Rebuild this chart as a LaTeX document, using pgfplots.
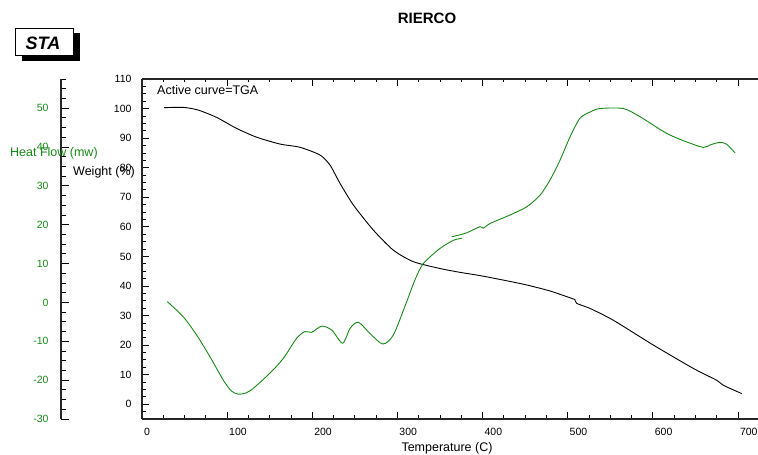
\documentclass[border=0pt]{standalone}
\usepackage{pgfplots}
\pgfplotsset{compat=1.18}
\usepackage{fontspec}
\setmainfont{Liberation Sans}
\definecolor{hfgreen}{RGB}{20,140,20}
\begin{document}
\begin{tikzpicture}[x=1pt,y=1pt]
\path[use as bounding box] (0,0) rectangle (758,455);
\pgfplotsset{
  common/.style={scale only axis, width=616pt, height=340pt, at={(142pt,36pt)}, anchor=south west,
    xmin=0, xmax=723.5, /pgf/number format/assume math mode=true, tick align=inside,
    major tick length=7pt, minor tick length=3.5pt, tick style={black, line width=0.8pt},
    ticklabel style={font=\fontsize{10.5}{12}\selectfont}},
}
\begin{axis}[common, ymin=-5, ymax=110, axis x line*=box, axis y line*=left,
  axis line style={line width=1.2pt, black!85},
  xtick={0,100,...,700}, minor xtick={0,25,...,725},
  ytick={0,10,...,110}, minor ytick={-5,-2.5,...,110},
  xticklabel style={anchor=north west, xshift=-1.5pt, yshift=-6pt},
  yticklabel style={xshift=-7pt}]
\addplot[black, line width=0.9pt, smooth, tension=0.4] coordinates {
(26,100.3)(48.5,100.4)(66,99.5)(87.7,97.0)(111,93.3)(134.7,90.3)(162,88.0)(185.6,86.9)
(209,84.3)(220.8,80.9)(232.6,74.7)(248.2,67.4)(271.7,58.9)(295.2,52.1)(318.7,48.2)
(350,45.9)(373.5,44.6)(400.9,43.3)(447.8,40.6)(479.2,38.3)(508.6,35.4)};
\addplot[black, line width=0.9pt, smooth, tension=0.4] coordinates {
(508.6,35.4)(510.6,34.1)
(526.2,32.4)(553.6,28.4)(600.6,20.0)(647.6,12.1)(675,8.1)(682.8,6.4)(704.4,3.6)};
\end{axis}
\begin{axis}[common, ymin=-30, ymax=57.5, hide axis]
\addplot[hfgreen, line width=0.9pt, smooth, tension=0.45] coordinates {
(29.7,0.2)(48.5,-3.7)(64.2,-8.4)(79.9,-14.0)(95.5,-20.0)(105,-22.8)(113.1,-23.6)(122,-23.3)
(130.7,-22.1)(150.3,-18.2)(166,-14.4)(181.7,-9.2)(191.4,-7.5)(199.3,-7.7)(211,-6.1)
(222.8,-7.1)(235.7,-10.5)(244.3,-6.7)(254.1,-5.1)(267.8,-8.0)(282.7,-10.7)(295.2,-8.4)
(310.9,0.2)(320.6,5.8)(330.4,10.0)(350,13.9)(366,16.0)(375.5,16.5)};
\addplot[hfgreen, line width=0.9pt, smooth, tension=0.45] coordinates {
(363.7,16.9)(380,17.8)
(397,19.5)(400.9,19.1)(408.7,20.3)(432.2,22.5)(451.8,24.6)(467.5,27.6)(479.2,31.5)
(491,36.6)(502.7,42.6)(514.4,47.4)(526.2,49.0)(537.9,49.9)(565.3,49.9)(584.9,47.8)
(616.3,43.5)(639.8,41.3)(659.3,39.9)(668,40.6)(678.9,41.2)(686.7,40.7)(696.5,38.5)};
\end{axis}
\begin{axis}[scale only axis, width=10pt, height=340pt, at={(61pt,36pt)}, anchor=south west,
  xmin=0, xmax=1, ymin=-30, ymax=57.5, axis x line=none, axis y line*=left,
  axis line style={line width=1.2pt, black!85},
  /pgf/number format/assume math mode=true, tick align=inside,
  major tick length=8pt, minor tick length=4.5pt, tick style={black, line width=0.8pt},
  ytick={-30,-20,...,50}, minor ytick={-30,-27.5,...,57.5},
  yticklabel style={hfgreen, font=\fontsize{10.5}{12}\selectfont, xshift=-9pt}]
\addplot[draw=none] coordinates {(0,0)};
\end{axis}
\node[anchor=west, text=hfgreen, font=\fontsize{12.5}{14}\selectfont, inner sep=0pt] at (10,302) {Heat Flow (mw)};
\node[anchor=west, font=\fontsize{12.5}{14}\selectfont, inner sep=0pt] at (73,283) {Weight (\%)};
\node[font=\fontsize{12.5}{14}\selectfont, inner sep=0pt] at (447,7) {Temperature (C)};
\node[font=\fontsize{15}{17}\selectfont\bfseries, inner sep=0pt] at (427,437) {RIERCO};
\node[anchor=west, font=\fontsize{12.5}{14}\selectfont, inner sep=0pt] at (157,365) {Active curve=TGA};
\fill[black] (22,394) rectangle (80,422);
\draw[fill=white, line width=0.8pt] (15,400) rectangle (73,427);
\node[font=\fontsize{18}{20}\selectfont\bfseries\itshape, inner sep=0pt] at (43,412) {STA};
\end{tikzpicture}
\end{document}
